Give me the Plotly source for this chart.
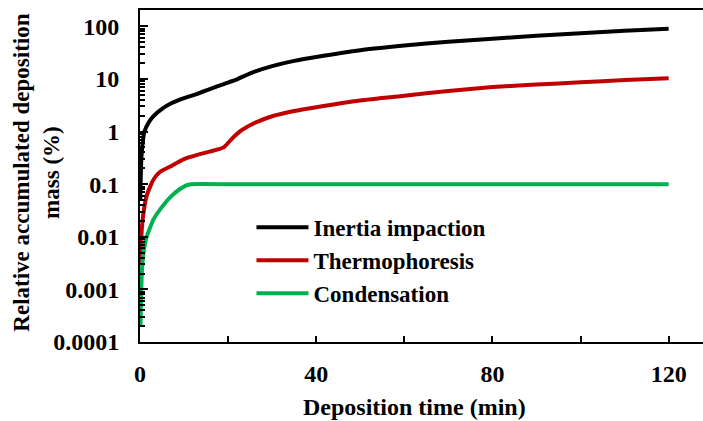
import plotly.graph_objects as go

# Deposition time (min) and relative accumulated deposition mass (%) per mechanism
t_inertia = [0.05, 0.3, 0.6, 1, 2, 3, 5, 7, 10, 13, 16, 19, 22, 25, 30, 35, 40,
             50, 60, 70, 80, 90, 100, 110, 120]
m_inertia = [0.05, 0.3, 0.6, 1.0, 1.5, 1.95, 2.7, 3.4, 4.3, 5.2, 6.5, 8.0, 9.8,
             12.8, 17.5, 22.0, 26.0, 35.0, 43.0, 51.0, 58.0, 66.0, 74.0, 82.0, 90.0]

t_thermo = [0.05, 0.3, 0.7, 1.5, 3, 4.5, 7, 10, 13, 16, 19, 21, 23, 26, 30, 35, 40,
            50, 60, 70, 80, 90, 100, 110, 120]
m_thermo = [0.003, 0.01, 0.025, 0.06, 0.12, 0.17, 0.22, 0.30, 0.36, 0.42, 0.50,
            0.75, 1.05, 1.45, 1.95, 2.45, 2.9, 3.9, 4.8, 5.9, 7.0, 7.8, 8.6, 9.5, 10.3]

t_cond = [0.1, 0.2, 0.4, 0.8, 1.5, 3, 5, 7, 9, 10.5, 11.5, 20, 60, 120]
m_cond = [0.0002, 0.0005, 0.002, 0.005, 0.01, 0.021, 0.037, 0.058, 0.08, 0.095,
          0.1, 0.1, 0.1, 0.1]

series = [
    ("Inertia impaction", t_inertia, m_inertia, "#000000", 0.5),
    ("Thermophoresis", t_thermo, m_thermo, "#C00000", 0.5),
    ("Condensation", t_cond, m_cond, "#00B050", 0.25),
]

x_ticks = [0, 20, 40, 60, 80, 100, 120]
x_labels = ["0", "", "40", "", "80", "", "120"]
y_ticks = [0.0001, 0.001, 0.01, 0.1, 1, 10, 100]
y_labels = ["0.0001", "0.001", "0.01", "0.1", "1", "10", "100"]
y_minor = [m * 10.0 ** e for e in range(-4, 3) for m in range(2, 10)]


def bold(s):
    return "<b>%s</b>" % s if s else ""


FONT = dict(family="Liberation Serif", size=24, color="#000000")
TITLE_Y_FONT = dict(family="Liberation Serif", size=23, color="#000000")
LEGEND_FONT = dict(family="Liberation Serif", size=23, color="#000000")

fig = go.Figure()
for name, t, m, color, smooth in series:
    fig.add_trace(go.Scatter(x=t, y=m, mode="lines", name=bold(name),
                             line=dict(color=color, width=4, shape="spline",
                                       smoothing=smooth)))

fig.update_layout(
    width=703, height=421,
    margin=dict(l=140, r=0, t=10, b=79),
    paper_bgcolor="white", plot_bgcolor="white",
    font=FONT,
    showlegend=True,
    legend=dict(x=0.198, y=0.41, xanchor="left", yanchor="top",
                bgcolor="rgba(0,0,0,0)", font=LEGEND_FONT, itemwidth=52,
                tracegroupgap=0),
    xaxis=dict(range=[0, 127.8], tickvals=x_ticks,
               ticktext=[bold(s) for s in x_labels],
               ticks="inside", ticklen=6, tickwidth=2, tickcolor="#000",
               showline=True, linecolor="#000", linewidth=2, mirror=True,
               showgrid=False, zeroline=False, ticklabelstandoff=9,
               tickfont=FONT),
    yaxis=dict(type="log", range=[-4, 2.31], tickvals=y_ticks,
               ticktext=[bold(s) for s in y_labels],
               ticks="inside", ticklen=8, tickwidth=2, tickcolor="#000",
               minor=dict(tickvals=y_minor, ticks="inside", ticklen=5,
                          tickwidth=2, tickcolor="#000"),
               showline=True, linecolor="#000", linewidth=2,
               showgrid=False, zeroline=False, ticklabelstandoff=14,
               tickfont=FONT),
    annotations=[
        dict(text=bold("Relative accumulated deposition<br>mass (%)"),
             textangle=-90, xref="paper", yref="paper", x=-0.183, y=0.51,
             xanchor="center", yanchor="middle", showarrow=False,
             font=TITLE_Y_FONT),
        dict(text=bold("Deposition time (min)"), xref="paper", yref="paper",
             x=0.488, y=-0.196, xanchor="center", yanchor="middle",
             showarrow=False, font=FONT),
    ],
)

fig.write_html("out.html")
